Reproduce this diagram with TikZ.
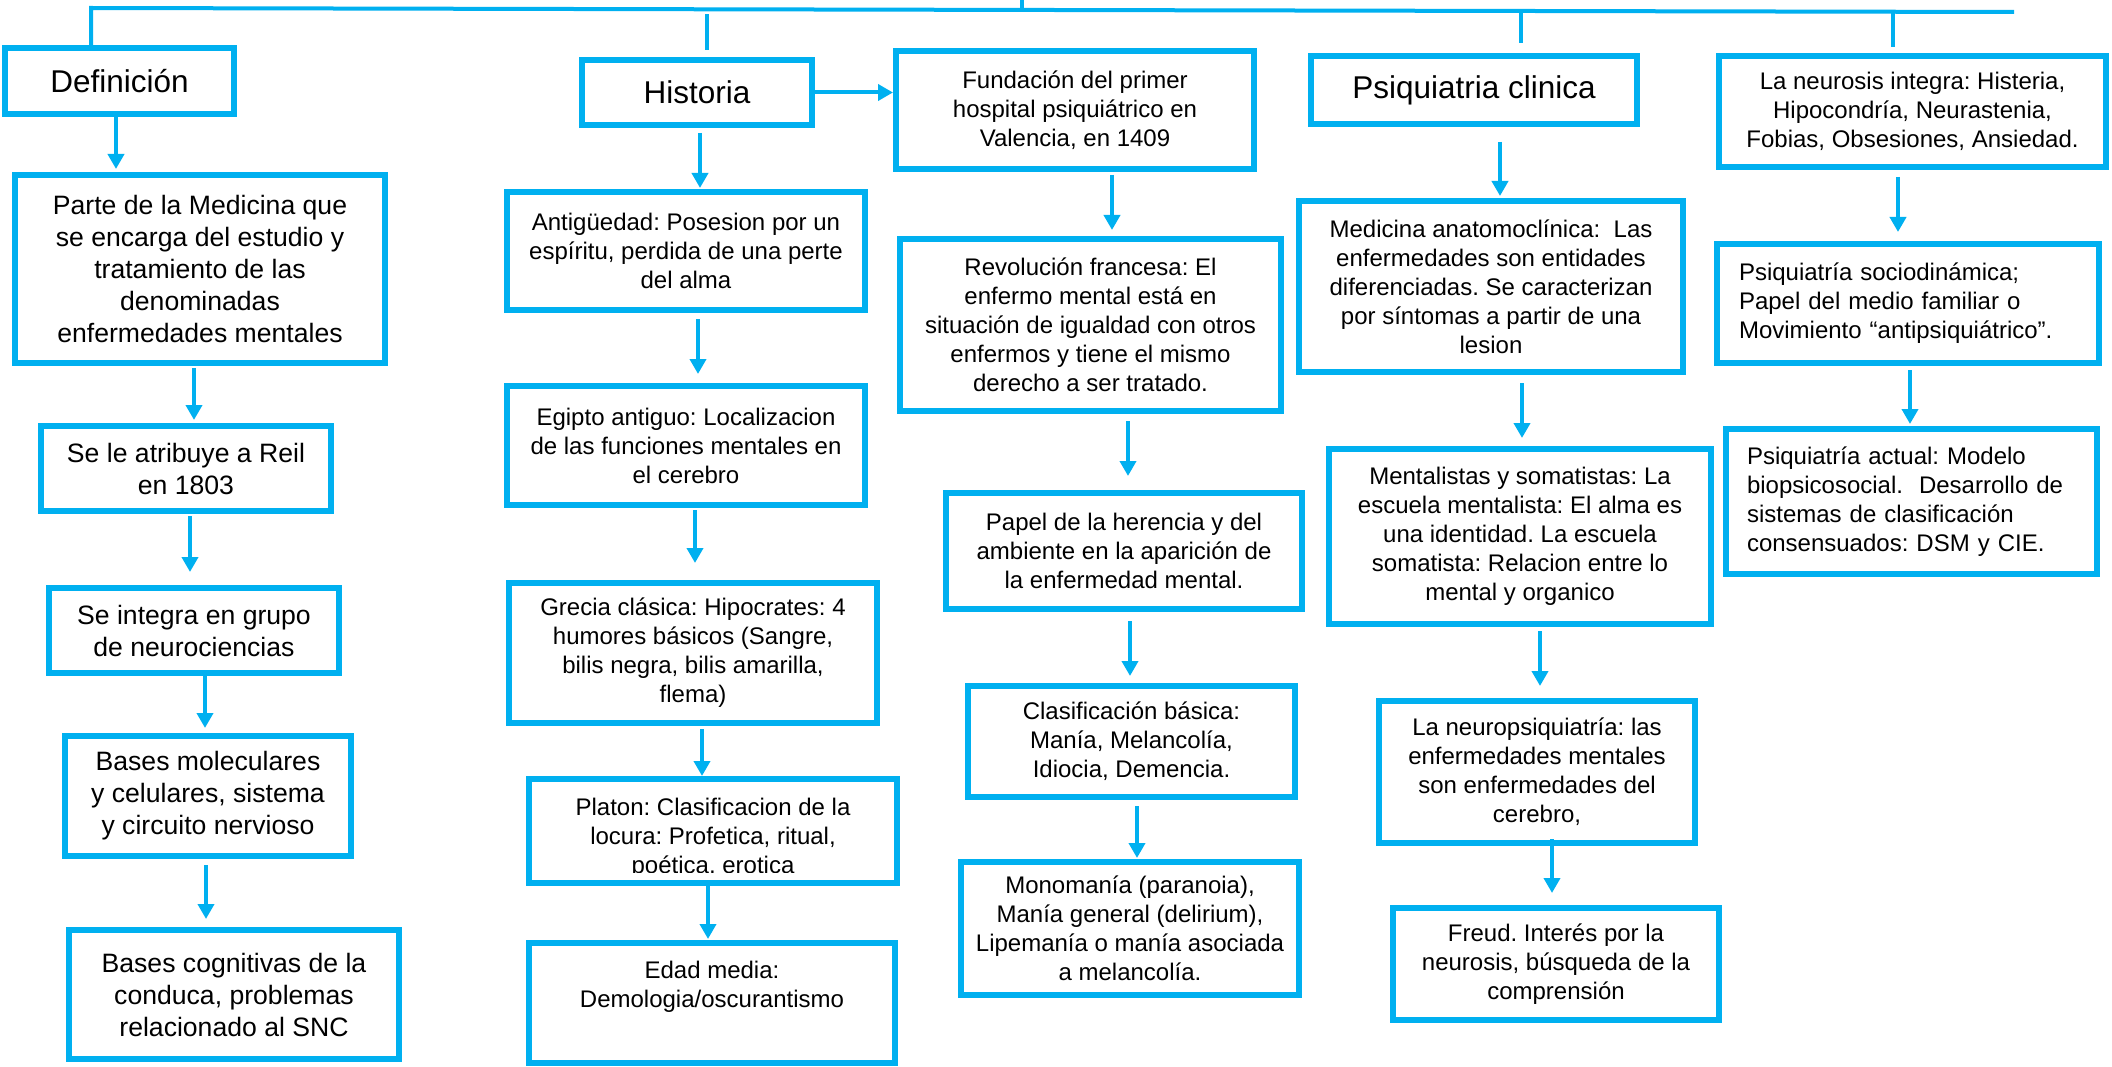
\documentclass[tikz,border=0pt]{standalone}
\usepackage{fontspec}
\setmainfont{Liberation Sans}
\usetikzlibrary{arrows.meta}
\definecolor{cb}{HTML}{00B0F0}
\frenchspacing
\newcommand\fb{\fontsize{24}{29}\selectfont}
\newcommand\fl{\fontsize{26.6}{32}\selectfont}
\newcommand\fh{\fontsize{31.5}{36}\selectfont}
\tikzset{
  box/.style={draw=cb,line width=6pt,inner sep=0pt,align=center,font=\fb,text=black},
  txt/.style={inner sep=0pt,align=center,font=\fb,text=black},
  arr/.style={draw=cb,line width=4pt,-{Triangle[length=15pt,width=16pt]}},
  ln/.style={draw=cb,line width=4pt}
}
\newcommand\bx[7][]{\node[box,minimum width={#5-#3-6},minimum height={#6-#4-6},#1] (#2) at ({(#3+#5)/2},{(#4+#6)/2}) {#7};}
\newcommand\ar[5]{\draw[arr,shorten <=#4pt,shorten >=#5pt] (#1.south -| #3,0) -- (#2.north -| #3,0);}
\begin{document}
\begin{tikzpicture}[x=1pt,y=-1pt]
\fill[white] (0,0) rectangle (2112,1067);
\useasboundingbox (0,0) rectangle (2112,1067);

% column 1
\bx[font=\fh]{def}{2}{45}{237}{117}{Definición}
\bx[font=\fl]{parte}{12}{172}{388}{366}{Parte de la Medicina que\\se encarga del estudio y\\tratamiento de las\\denominadas\\enfermedades mentales}
\bx[font=\fl]{reil}{38}{423}{334}{514}{Se le atribuye a Reil\\en 1803}
\bx[font=\fl]{integ}{46}{585}{342}{676}{Se integra en grupo\\de neurociencias}
\bx[font=\fl]{mol}{62}{733}{354}{859}{Bases moleculares\\y celulares, sistema\\y circuito nervioso}
\bx[font=\fl]{cog}{66}{927}{402}{1062}{Bases cognitivas de la\\conduca, problemas\\relacionado al SNC}

% column 2
\bx[font=\fh]{hist}{579}{57}{815}{128}{Historia}
\bx{antig}{504}{189}{868}{313}{Antigüedad: Posesion por un\\espíritu, perdida de una perte\\del alma}
\bx{egip}{504}{383}{868}{508}{Egipto antiguo: Localizacion\\de las funciones mentales en\\el cerebro}
\bx{grec}{506}{580}{880}{726}{Grecia clásica: Hipocrates: 4\\humores básicos (Sangre,\\bilis negra, bilis amarilla,\\flema)}
\begin{scope}
\clip (526,776) rectangle (900,872);
\node[txt] (platt) at (713,838) {Platon: Clasificacion de la\\locura: Profetica, ritual,\\poética, erotica};
\end{scope}
\bx{plat}{526}{776}{900}{886}{}
\bx{edad}{526}{940}{898}{1066}{Edad media:\\Demologia/oscurantismo\\\strut}

% column 3
\bx{fund}{893}{48}{1257}{172}{Fundación del primer\\hospital psiquiátrico en\\Valencia, en 1409}
\bx{rev}{897}{236}{1284}{414}{Revolución francesa: El\\enfermo mental está en\\situación de igualdad con otros\\enfermos y tiene el mismo\\derecho a ser tratado.}
\bx{papel}{943}{490}{1305}{612}{Papel de la herencia y del\\ambiente en la aparición de\\la enfermedad mental.}
\bx{clas}{965}{683}{1298}{800}{Clasificación básica:\\Manía, Melancolía,\\Idiocia, Demencia.}
\bx{mono}{958}{859}{1302}{998}{Monomanía (paranoia),\\Manía general (delirium),\\Lipemanía o manía asociada\\a melancolía.}

% column 4
\bx[font=\fh]{psiq}{1308}{53}{1640}{127}{Psiquiatria clinica}
\bx{med}{1296}{198}{1686}{375}{Medicina anatomoclínica:\ \ Las\\enfermedades son entidades\\diferenciadas. Se caracterizan\\por síntomas a partir de una\\lesion}
\bx{ment}{1326}{446}{1714}{627}{Mentalistas y somatistas: La\\escuela mentalista: El alma es\\una identidad. La escuela\\somatista: Relacion entre lo\\mental y organico}
\bx{neuro}{1376}{698}{1698}{846}{La neuropsiquiatría: las\\enfermedades mentales\\son enfermedades del\\cerebro,}
\bx{freud}{1390}{905}{1722}{1023}{Freud. Interés por la\\neurosis, búsqueda de la\\comprensión}

% column 5
\bx{neur}{1716}{53}{2109}{170}{La neurosis integra: Histeria,\\Hipocondría, Neurastenia,\\Fobias, Obsesiones, Ansiedad.}
\bx[align=left,text width=338pt]{socio}{1714}{241}{2102}{366}{Psiquiatría sociodinámica;\\Papel del medio familiar o\\Movimiento “antipsiquiátrico”.}
\bx[align=left,text width=329pt]{actual}{1723}{426}{2100}{577}{Psiquiatría actual: Modelo\\biopsicosocial.\ \ Desarrollo de\\sistemas de clasificación\\consensuados: DSM y CIE.}

% top connector
\coordinate (tl) at (91,8);
\coordinate (tr) at (2014,12);
\coordinate (tt) at (1022,0);
\coordinate (tb) at (1022,10);
\coordinate (h1) at (707,14);
\coordinate (h2) at (1521,10);
\coordinate (h3) at (1893,12);
\draw[ln] (def.north -| tl) -- (tl) -- (tr);
\draw[ln] (tt) -- (tb);
\draw[ln,shorten <=7pt] (hist.north -| h1) -- (h1);
\draw[ln,shorten <=10pt] (psiq.north -| h2) -- (h2);
\draw[ln,shorten <=6pt] (neur.north -| h3) -- (h3);

% arrows column 1
\ar{def}{parte}{116}{0}{3}
\ar{parte}{reil}{194}{2}{3}
\ar{reil}{integ}{190}{2}{13}
\ar{integ}{mol}{205}{0}{5}
\ar{mol}{cog}{206}{6}{8}
% column 2
\ar{hist}{antig}{700}{5}{1}
\ar{antig}{egip}{698}{6}{9}
\ar{egip}{grec}{695}{2}{17}
\ar{grec}{plat}{702}{3}{0}
\ar{plat}{edad}{708}{0}{1}
\draw[arr] (hist.east) -- (fund.west |- hist.east);
% column 3
\ar{fund}{rev}{1112}{3}{6}
\ar{rev}{papel}{1128}{7}{14}
\ar{papel}{clas}{1130}{9}{7}
\ar{clas}{mono}{1137}{6}{1}
% column 4
\ar{psiq}{med}{1500}{15}{2}
\ar{med}{ment}{1522}{8}{8}
\ar{ment}{neuro}{1540}{4}{12}
\ar{neuro}{freud}{1552}{-7}{12}
% column 5
\ar{neur}{socio}{1898}{7}{9}
\ar{socio}{actual}{1910}{4}{2}
\end{tikzpicture}
\end{document}
